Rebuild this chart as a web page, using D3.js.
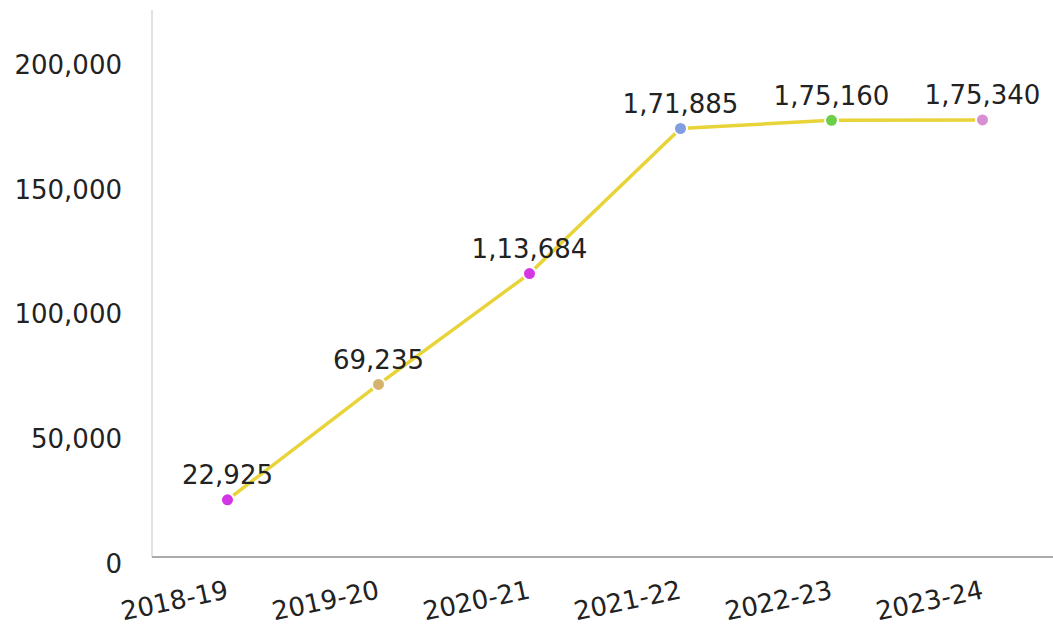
<!DOCTYPE html>
<html>
<head>
<meta charset="utf-8">
<script src="https://cdn.jsdelivr.net/npm/d3@7"></script>
<style>
  html, body { margin: 0; padding: 0; background: #fff; }
  svg { display: block; }
  text { font-family: "DejaVu Sans", Verdana, sans-serif; fill: #222; }
</style>
</head>
<body>
<svg id="chart" width="1053" height="625"></svg>
<script>
// Yearly totals
const years = ["2018-19", "2019-20", "2020-21", "2021-22", "2022-23", "2023-24"];
const totals = [22925, 69235, 113684, 171885, 175160, 175340];
const valueLabels = ["22,925", "69,235", "1,13,684", "1,71,885", "1,75,160", "1,75,340"];
const pointColors = ["#d235e6", "#d6b36c", "#d535e3", "#7f9fe0", "#6ccf4a", "#d98ed2"];
const yTicks = [0, 50000, 100000, 150000, 200000];
const yTickLabels = ["0", "50,000", "100,000", "150,000", "200,000"];

(function draw() {
  const svg = d3.select("#chart");
  const plotLeft = 152, plotRight = 1058, plotTop = 10, plotBottom = 557;
  const fontSize = 26;

  const x = d3.scalePoint().domain(years).range([plotLeft, plotRight]).padding(0.5);
  const y = d3.scaleLinear().domain([0, 200000]).range([plotBottom, plotBottom - 498.6]);

  // Axis lines
  svg.append("line")
    .attr("x1", plotLeft).attr("x2", plotLeft).attr("y1", plotTop).attr("y2", plotBottom)
    .attr("stroke", "#e2e2e2").attr("stroke-width", 2);
  svg.append("line")
    .attr("x1", plotLeft).attr("x2", 1053).attr("y1", plotBottom).attr("y2", plotBottom)
    .attr("stroke", "#aaa").attr("stroke-width", 2);

  // Y tick labels
  svg.append("g").selectAll("text")
    .data(yTicks)
    .join("text")
    .attr("x", 122)
    .attr("y", (d) => y(d) + 15.5)
    .attr("text-anchor", "end")
    .attr("font-size", fontSize)
    .text((d, i) => yTickLabels[i]);

  // X tick labels, rotated
  svg.append("g").selectAll("text")
    .data(years)
    .join("text")
    .attr("transform", (d) => `translate(${x(d) + 2},${plotBottom + 41}) rotate(-12)`)
    .attr("text-anchor", "end")
    .attr("font-size", fontSize)
    .text((d) => d);

  const pts = years.map((d, i) => ({ year: d, v: totals[i], label: valueLabels[i], color: pointColors[i] }));

  // Line
  svg.append("path")
    .datum(pts)
    .attr("fill", "none")
    .attr("stroke", "#e8d439")
    .attr("stroke-width", 3.5)
    .attr("d", d3.line().x((d) => x(d.year)).y((d) => y(d.v)));

  // Points
  svg.append("g").selectAll("circle")
    .data(pts)
    .join("circle")
    .attr("cx", (d) => x(d.year))
    .attr("cy", (d) => y(d.v))
    .attr("r", 6.5)
    .attr("fill", (d) => d.color)
    .attr("stroke", "#fff")
    .attr("stroke-width", 2);

  // Value labels
  svg.append("g").selectAll("text")
    .data(pts)
    .join("text")
    .attr("x", (d) => x(d.year))
    .attr("y", (d) => y(d.v) - 15.5)
    .attr("text-anchor", "middle")
    .attr("font-size", fontSize)
    .text((d) => d.label);
})();
</script>
</body>
</html>
